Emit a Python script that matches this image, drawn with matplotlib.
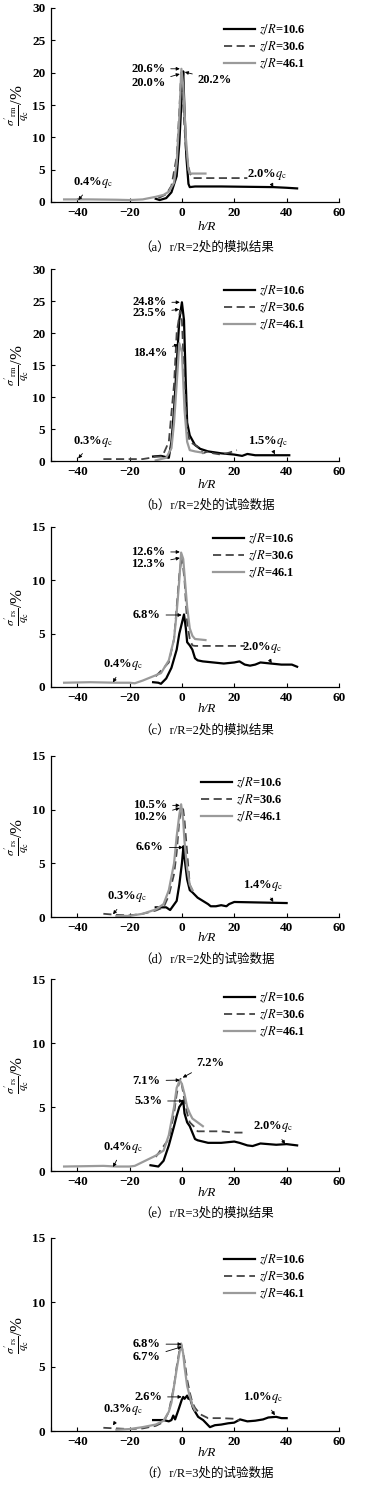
import matplotlib
matplotlib.use("Agg")
import matplotlib.pyplot as plt

plt.rcParams['font.family'] = ['Liberation Serif', 'Noto Sans CJK SC']
plt.rcParams['mathtext.fontset'] = 'stix'

# ---------------- data (h/R, stress ratio in %) ----------------
# (a) r/R=2 simulation
A_H_106 = [-10, -8.5, -6, -4, -2, -1, 0, 0.5, 1, 1.7, 2.5, 3, 5, 15, 25, 35, 40, 44]
A_V_106 = [0.5, 0.3, 0.6, 1.5, 4, 9, 17, 20.2, 14, 7, 2.8, 2.3, 2.4, 2.4, 2.35, 2.3, 2.2, 2.1]
A_H_306 = [-9, -6, -4, -2, -1, -0.3, 0.5, 1.5, 3, 4, 10, 20, 25]
A_V_306 = [0.6, 1.2, 2.5, 7, 14, 20.0, 15, 8, 4.5, 3.7, 3.7, 3.7, 3.7]
A_H_461 = [-45, -35, -25, -20, -15, -10, -7, -5, -3, -2, -1, -0.2, 0.5, 1.5, 2.5, 3, 5, 9]
A_V_461 = [0.4, 0.4, 0.35, 0.3, 0.4, 0.8, 1.1, 1.6, 3, 6, 13, 20.6, 18, 10, 5, 4.4, 4.4, 4.4]

# (b) r/R=2 test
B_H_106 = [-11, -8, -6, -5, -4, -3, -2, -1, 0, 0.8, 1.5, 2, 3, 5, 7, 10, 15, 20, 23, 25, 28, 35, 41]
B_V_106 = [0.7, 0.8, 0.6, 0.5, 3, 8, 15, 22, 24.8, 22, 12, 6, 4.0, 2.5, 1.9, 1.5, 1.2, 1.0, 0.8, 1.1, 0.9, 0.9, 0.9]
B_H_306 = [-30, -20, -15, -12, -10, -7.5, -5, -3, -2, -0.7, 0, 1, 2, 3, 5, 7, 8, 10, 12, 15, 18, 21]
B_V_306 = [0.3, 0.3, 0.3, 0.5, 0.7, 0.7, 3, 12, 20, 23.5, 22, 12, 5, 3, 2.5, 2.0, 1.2, 1.5, 1.2, 1.0, 1.3, 1.7]
B_H_461 = [-10, -6, -4, -3, -2, -1, 0, 1, 2, 3, 5, 8]
B_V_461 = [0.1, 0.5, 2, 6, 12, 18.4, 17, 8, 3, 1.7, 1.5, 1.3]

# (c) r/R=2 simulation
C_H_106 = [-11, -9, -8, -6, -4, -2, -1, 0, 0.8, 1.5, 2, 3, 4, 5, 6, 8, 12, 16, 20, 22, 24, 26, 28, 30, 34, 38, 42, 44]
C_V_106 = [0.45, 0.4, 0.3, 0.8, 1.8, 3.5, 5, 6, 6.8, 5.5, 4.2, 3.9, 3.5, 2.7, 2.5, 2.4, 2.3, 2.2, 2.3, 2.4, 2.1, 2.0, 2.1, 2.3, 2.2, 2.1, 2.1, 1.9]
C_H_306 = [-10, -5, -3, -2, -1, 0, 1, 2, 3, 4, 5, 24]
C_V_306 = [1.0, 2.3, 4.5, 7.5, 10.5, 12.3, 10, 6, 4.5, 3.9, 3.85, 3.85]
C_H_461 = [-45, -35, -25, -20, -18, -15, -10, -8, -5, -3, -2, -1, -0.3, 0.5, 1, 2, 3, 4, 5, 9]
C_V_461 = [0.4, 0.45, 0.4, 0.4, 0.35, 0.6, 1.1, 1.3, 2.5, 4.5, 7, 10, 12.6, 12, 10.5, 7.5, 5.5, 4.8, 4.5, 4.4]

# (d) r/R=2 test
D_H_106 = [-10, -6, -4.5, -2, -1, 0, 0.6, 1, 2, 3, 4, 6, 8, 10, 11, 13, 15, 17, 18, 19, 20, 30, 40]
D_V_106 = [0.9, 0.9, 0.65, 1.5, 3, 5, 6.6, 5.5, 3.5, 2.5, 2.3, 1.8, 1.5, 1.2, 1.0, 1.0, 1.1, 1.0, 1.2, 1.3, 1.4, 1.35, 1.3]
D_H_306 = [-30, -25, -20, -15, -10, -7, -5, -3, -2, -1, 0, 0.5, 1, 2, 3, 4, 5]
D_V_306 = [0.3, 0.2, 0.15, 0.3, 0.6, 0.9, 2, 4, 6, 9, 10.2, 10, 9, 6, 3, 2.5, 2.2]
D_H_461 = [-25, -20, -15, -10, -7, -5, -3, -2, -1, -0.3, 0.5, 1, 2, 3, 4]
D_V_461 = [0.1, 0.1, 0.3, 0.7, 1.2, 2.5, 5, 7.5, 9.5, 10.5, 9, 7, 4.5, 3, 2.5]

# (e) r/R=3 simulation
E_H_106 = [-12, -9, -7, -5, -3, -2, -1, 0, 0.5, 1, 2, 3, 4, 5, 6, 10, 15, 20, 22, 25, 27, 30, 33, 36, 40, 44]
E_V_106 = [0.45, 0.35, 0.8, 2.0, 3.5, 4.3, 5.0, 5.3, 5.5, 4.5, 3.8, 3.5, 3.0, 2.5, 2.4, 2.2, 2.2, 2.3, 2.2, 2.0, 1.95, 2.15, 2.1, 2.05, 2.1, 2.0]
E_H_306 = [-10, -5, -3, -2, -1, -0.5, 0, 1, 2, 3, 5, 6, 10, 15, 20, 24]
E_V_306 = [1.1, 2.5, 4.5, 6, 7.0, 7.2, 6.7, 5.5, 4.5, 3.8, 3.4, 3.1, 3.1, 3.1, 3.0, 3.0]
E_H_461 = [-45, -30, -25, -20, -18, -15, -10, -7, -5, -3, -2, -0.8, 0, 1, 2, 3, 4, 6, 8]
E_V_461 = [0.35, 0.4, 0.35, 0.35, 0.4, 0.7, 1.2, 1.6, 2.8, 5, 6.5, 7.1, 6.8, 6, 5, 4.5, 4.1, 3.8, 3.5]

# (f) r/R=3 test
F_H_106 = [-11, -7, -5, -4, -3.3, -2.6, -1.4, -0.1, 0.5, 1, 2, 2.5, 3, 4.3, 6.2, 8.1, 10.7, 12.6, 15, 17.7, 20, 22.2, 25, 28, 31, 33, 36, 38, 40]
F_V_106 = [0.85, 0.85, 0.75, 0.85, 1.2, 0.9, 1.6, 2.4, 2.65, 2.5, 2.75, 2.5, 2.6, 1.75, 1.1, 0.85, 0.3, 0.45, 0.5, 0.6, 0.65, 0.9, 0.75, 0.8, 0.9, 1.05, 1.1, 1.0, 1.0]
F_H_306 = [-30, -25, -20, -15, -10, -7, -5, -3, -2, -1, -0.2, 1, 2, 3, 4, 5, 7, 10, 15, 20, 22]
F_V_306 = [0.25, 0.2, 0.15, 0.2, 0.4, 0.7, 1.5, 3.5, 5, 6.2, 6.7, 5.5, 4, 3, 2.2, 1.8, 1.3, 1.0, 1.0, 0.95, 0.8]
F_H_461 = [-25, -20, -15, -10, -7, -5, -4, -3, -2, -1, -0.3, 0.5, 1, 2, 3, 4, 5]
F_V_461 = [0.1, 0.15, 0.3, 0.5, 0.8, 1.5, 2.2, 3.5, 4.8, 6, 6.8, 6, 5, 3.5, 2.7, 2, 1.6]

LEGEND_LABELS = [r"$z/R$=10.6", r"$z/R$=30.6", r"$z/R$=46.1"]
CAPTIONS = ["（a）r/R=2处的模拟结果", "（b）r/R=2处的试验数据", "（c）r/R=2处的模拟结果",
            "（d）r/R=2处的试验数据", "（e）r/R=3处的模拟结果", "（f）r/R=3处的试验数据"]
YLABELS = [r"$\frac{\sigma'_{\rm rm}}{q_{\rm c}}$/%"] * 2 + [r"$\frac{\sigma'_{\rm rs}}{q_{\rm c}}$/%"] * 4
YMAX = [30, 30, 15, 15, 15, 15]

# annotations: (text, text_xy, arrow_tip_xy)
NOTES = [
    [("20.6%", (-12.9, 20.6), (-0.8, 20.6)), ("20.0%", (-12.9, 18.4), (-0.8, 19.8)),
     ("20.2%", (12.6, 18.9), (1.1, 20.1)), (r"0.4%$q_{\rm c}$", (-33.9, 3.0), (-39.6, 0.3)),
     (r"2.0%$q_{\rm c}$", (32.4, 4.2), (34.9, 2.3))],
    [("24.8%", (-12.5, 24.8), (-0.8, 24.8)), ("23.5%", (-12.5, 23.1), (-1.0, 23.7)),
     ("18.4%", (-12.2, 16.8), (-1.4, 18.2)), (r"0.3%$q_{\rm c}$", (-33.9, 3.1), (-39.6, 0.4)),
     (r"1.5%$q_{\rm c}$", (33.0, 3.1), (35.5, 1.05))],
    [("12.6%", (-12.9, 12.66), (-0.8, 12.66)), ("12.3%", (-12.9, 11.5), (-0.8, 12.1)),
     ("6.8%", (-13.5, 6.75), (-0.1, 6.75)), (r"0.4%$q_{\rm c}$", (-22.4, 2.1), (-26.3, 0.43)),
     (r"2.0%$q_{\rm c}$", (30.5, 3.73), (34.3, 2.24))],
    [("10.5%", (-12.2, 10.4), (-0.8, 10.4)), ("10.2%", (-12.2, 9.34), (-0.8, 10.15)),
     ("6.6%", (-12.2, 6.48), (0.4, 6.48)), (r"0.3%$q_{\rm c}$", (-21.1, 1.87), (-26.3, 0.25)),
     (r"1.4%$q_{\rm c}$", (31.1, 2.96), (34.9, 1.4))],
    [("7.2%", (10.7, 8.47), (0.3, 7.3)), ("7.1%", (-13.5, 7.06), (-0.8, 7.1)),
     ("5.3%", (-12.9, 5.47), (0.5, 5.47)), (r"0.4%$q_{\rm c}$", (-22.4, 1.84), (-26.3, 0.31)),
     (r"2.0%$q_{\rm c}$", (34.9, 3.45), (39.4, 2.1))],
    [("6.8%", (-13.5, 6.75), (-0.1, 6.75)), ("6.7%", (-13.5, 5.72), (-0.1, 6.54)),
     ("2.6%", (-12.9, 2.65), (-0.1, 2.65)), (r"0.3%$q_{\rm c}$", (-22.4, 1.67), (-26.3, 0.44)),
     (r"1.0%$q_{\rm c}$", (31.1, 2.6), (35.5, 1.22))],
]

CURVES = [
    [(A_H_106, A_V_106), (A_H_306, A_V_306), (A_H_461, A_V_461)],
    [(B_H_106, B_V_106), (B_H_306, B_V_306), (B_H_461, B_V_461)],
    [(C_H_106, C_V_106), (C_H_306, C_V_306), (C_H_461, C_V_461)],
    [(D_H_106, D_V_106), (D_H_306, D_V_306), (D_H_461, D_V_461)],
    [(E_H_106, E_V_106), (E_H_306, E_V_306), (E_H_461, E_V_461)],
    [(F_H_106, F_V_106), (F_H_306, F_V_306), (F_H_461, F_V_461)],
]

# ---------------- layout (pixels of the 384x1504 canvas) ----------------
W, H = 384, 1504
AX_TOP = [8, 269, 527, 756, 979, 1238]
AX_BOT = [202, 461, 687, 917, 1171, 1431]
LEG_X = [224, 224, 213, 201, 224, 224]
LEG_Y = [30, 291, 539, 783, 998, 1260]
CAP_Y = [247, 505, 730, 959, 1213, 1473]
XL_Y = [227, 485, 709, 938, 1193, 1453]

STYLES = [dict(color='black', lw=1.6, ls='-'),
          dict(color='#444444', lw=1.3, ls=(0, (4.5, 2.5))),
          dict(color='#9a9a9a', lw=1.6, ls='-')]

fig = plt.figure(figsize=(W / 100, H / 100), dpi=100)

for i in range(6):
    top, bot = AX_TOP[i], AX_BOT[i]
    ax = fig.add_axes([51 / W, 1 - bot / H, 288 / W, (bot - top) / H])
    handles = []
    for (hx, vy), st in zip(CURVES[i], STYLES):
        ln, = ax.plot(hx, vy, **st)
        handles.append(ln)
    ax.set_xlim(-50, 60)
    ax.set_ylim(0, YMAX[i])
    ax.set_xticks([-40, -20, 0, 20, 40, 60])
    ax.set_xticks([-50], minor=True)
    ax.set_yticks(range(0, YMAX[i] + 1, 5))
    for s in ['top', 'right']:
        ax.spines[s].set_visible(False)
    for s in ['left', 'bottom']:
        ax.spines[s].set_linewidth(0.9)
    ax.tick_params(which='both', direction='in', length=3, width=0.8, labelsize=9.5)
    ax.tick_params(axis='y', pad=4)
    ax.tick_params(axis='x', pad=3.5)
    for lab in ax.get_xticklabels() + ax.get_yticklabels():
        lab.set_fontweight('bold')

    # legend placed by the pixel location of the handle start
    lx = (LEG_X[i] - 51) / 288
    ly = (bot - LEG_Y[i] + 7) / (bot - top)
    leg = ax.legend(handles, LEGEND_LABELS, loc='upper left', bbox_to_anchor=(lx, ly),
                    frameon=False, fontsize=9, handlelength=2.5, handletextpad=0.3,
                    labelspacing=0.22, borderpad=0, borderaxespad=0)
    for t in leg.get_texts():
        t.set_fontweight('bold')

    for txt, xy_t, xy_a in NOTES[i]:
        ax.annotate(txt, xy=xy_a, xytext=xy_t, ha='center', va='center', fontsize=9,
                    fontweight='bold',
                    arrowprops=dict(arrowstyle='-|>', lw=0.6, color='black',
                                    mutation_scale=5, shrinkA=2, shrinkB=0))

    ax.set_ylabel(YLABELS[i], fontsize=12, labelpad=1)
    fig.text(207 / W, 1 - XL_Y[i] / H, "h/R", style='italic', fontsize=9.5,
             ha='center', va='center')
    fig.text(207 / W, 1 - CAP_Y[i] / H, CAPTIONS[i], fontsize=9, ha='center', va='center')

fig.savefig("out.png", dpi=100)
